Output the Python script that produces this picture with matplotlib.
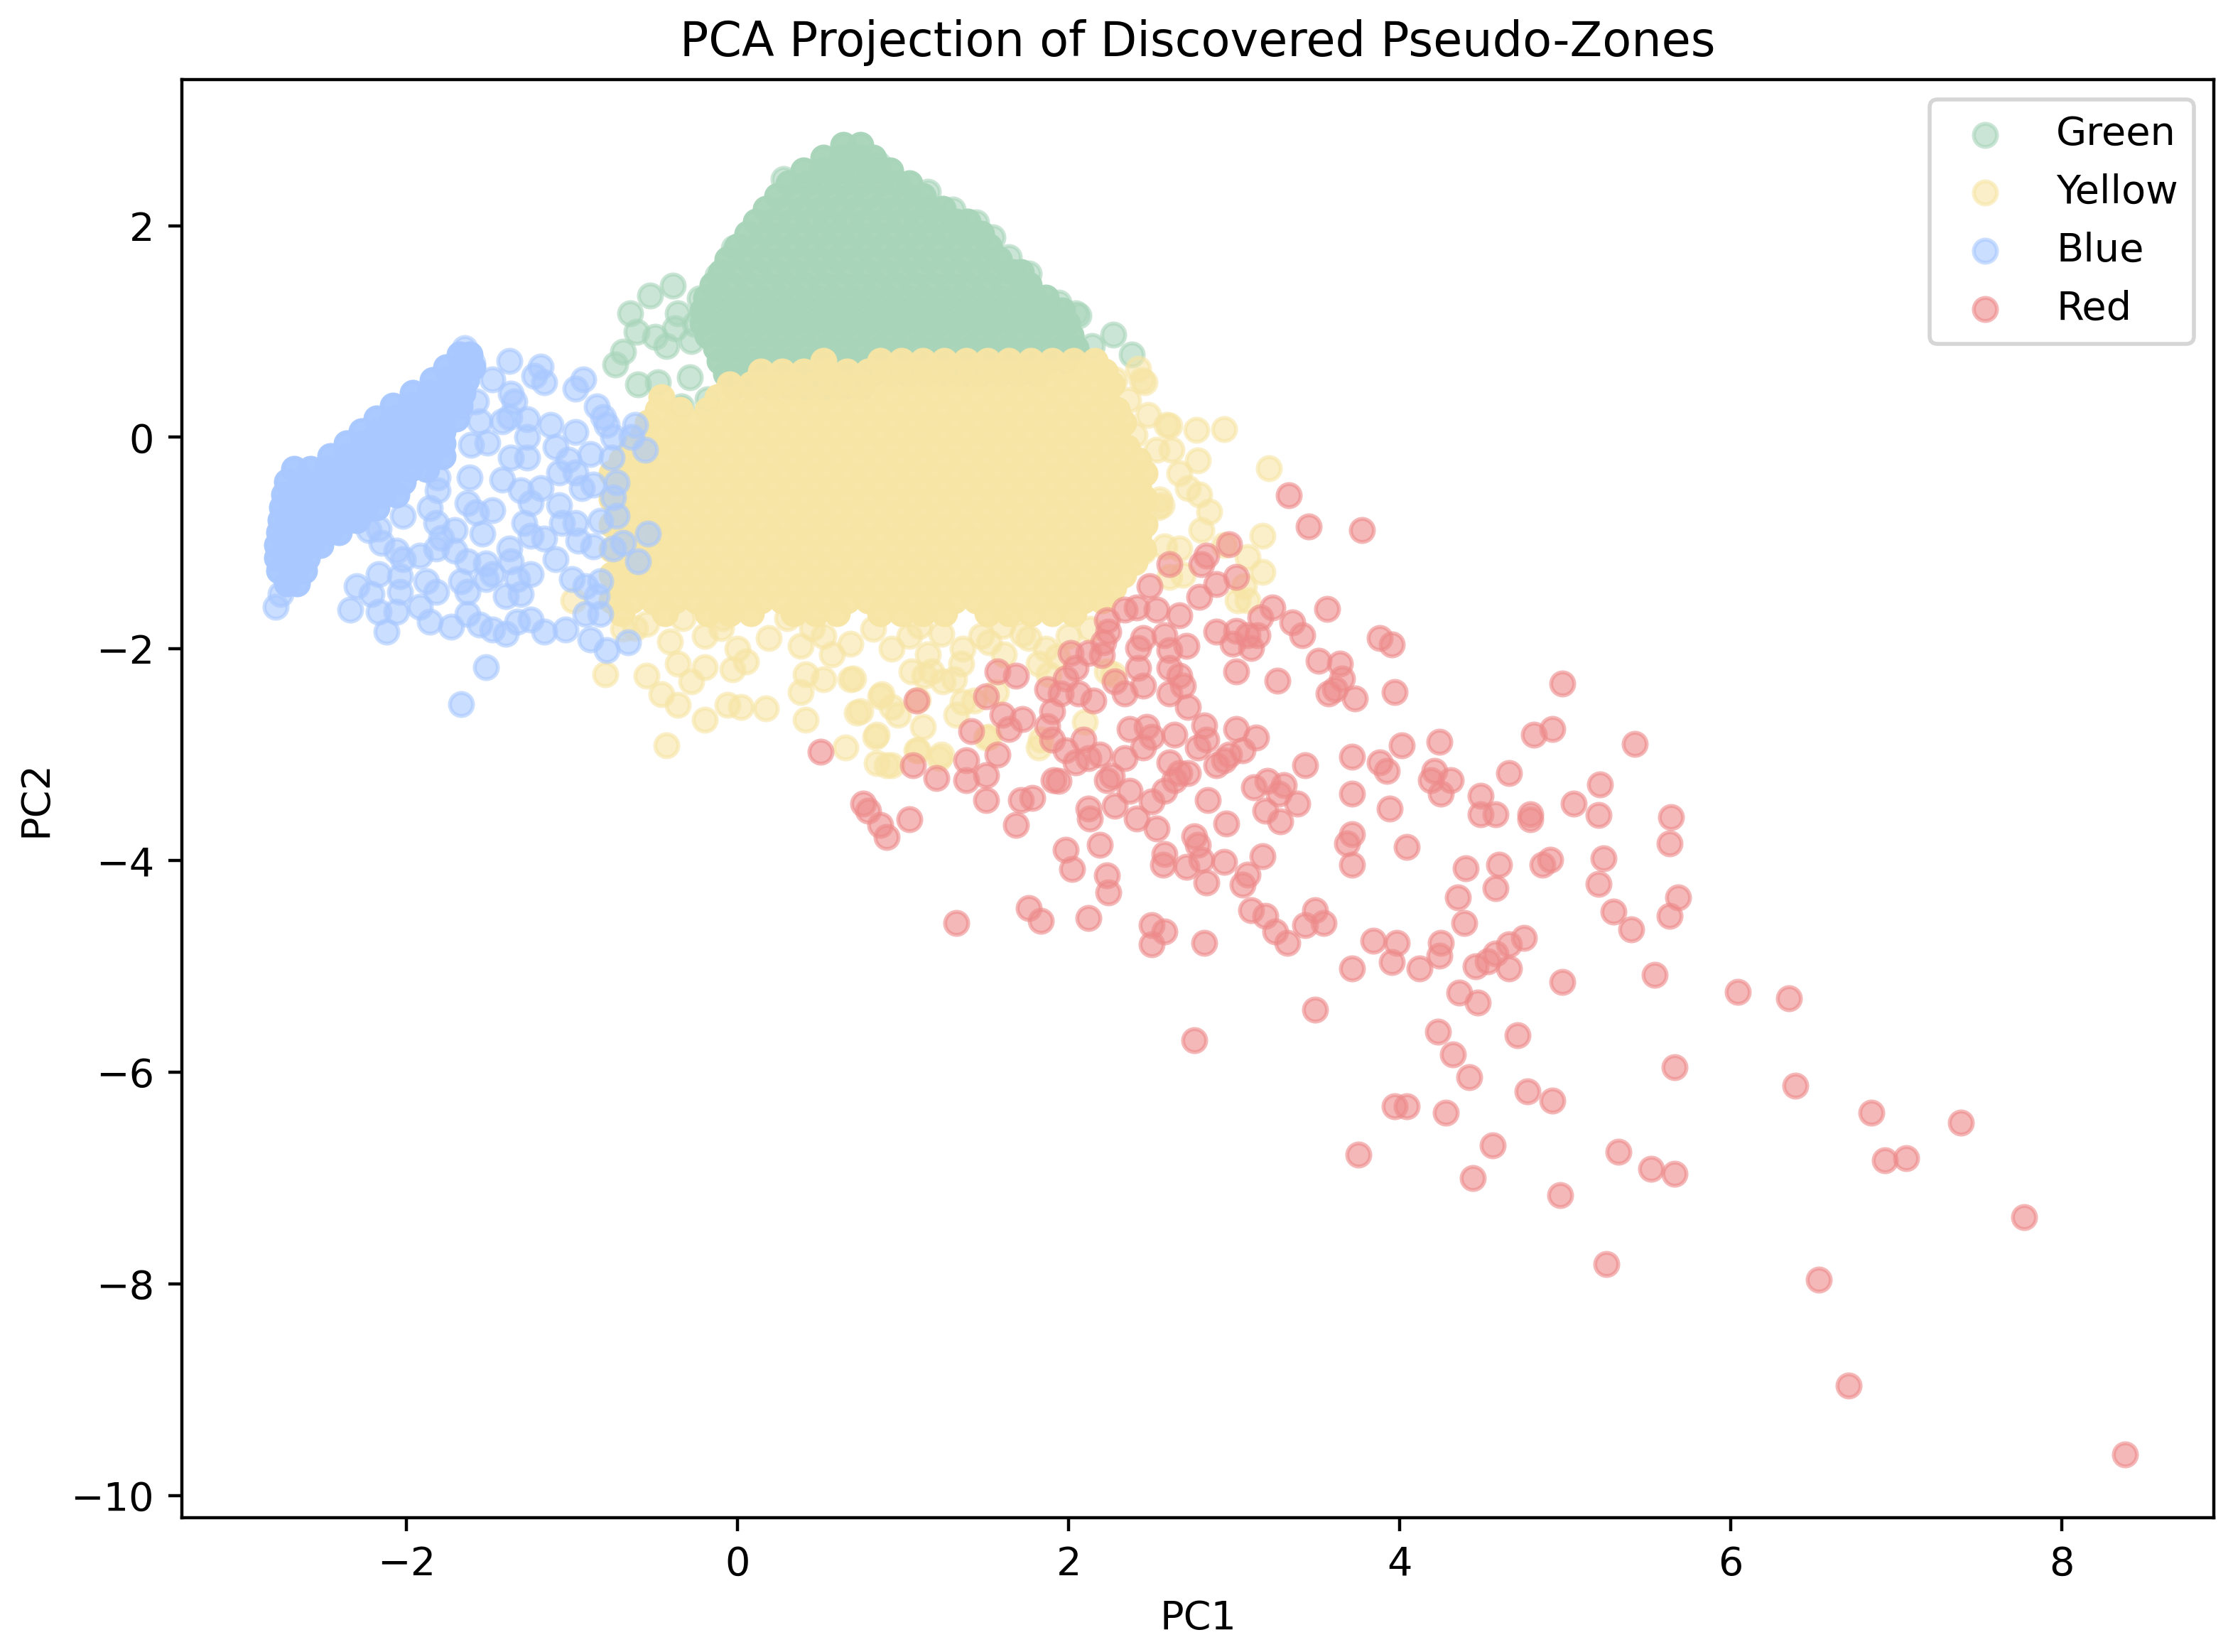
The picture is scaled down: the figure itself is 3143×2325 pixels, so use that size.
import matplotlib
matplotlib.use("Agg")
import matplotlib.pyplot as plt

# ---------------- colours ----------------
GREEN_C = "#a8d5ba"
YELLOW_C = "#f7e5a5"
BLUE_C = "#a8c8ff"
RED_C = "#ee8a8a"

labels = ["Green", "Yellow", "Blue", "Red"]

# ---------------- data ----------------
# dense cores, rows of (PC2, [PC1 ...])
green_core_rows = [
    (2.76, [0.64, 0.74]),
    (2.64, [0.52, 0.63, 0.74, 0.82]),
    (2.52, [0.40, 0.51, 0.62, 0.73, 0.84, 0.92]),
    (2.40, [0.31, 0.42, 0.53, 0.64, 0.75, 0.86, 0.97, 1.04]),
    (2.28, [0.24, 0.35, 0.46, 0.57, 0.68, 0.79, 0.90, 1.01, 1.12]),
    (2.16, [0.17, 0.28, 0.39, 0.50, 0.61, 0.72, 0.83, 0.94, 1.05, 1.16, 1.24]),
    (2.04, [0.11, 0.22, 0.33, 0.44, 0.55, 0.66, 0.77, 0.88, 0.99, 1.10, 1.21, 1.32, 1.39]),
    (1.92, [0.06, 0.17, 0.28, 0.39, 0.50, 0.61, 0.72, 0.83, 0.94, 1.05, 1.16, 1.27, 1.38, 1.47]),
    (1.80, [0.00, 0.11, 0.22, 0.33, 0.44, 0.55, 0.66, 0.77, 0.88, 0.99, 1.10, 1.21, 1.32, 1.43, 1.52]),
    (1.68, [-0.06, 0.05, 0.16, 0.27, 0.38, 0.49, 0.60, 0.71, 0.82, 0.93, 1.04, 1.15, 1.26, 1.37, 1.48, 1.58]),
    (1.56, [-0.10, 0.01, 0.12, 0.23, 0.34, 0.45, 0.56, 0.67, 0.78, 0.89, 1.00, 1.11, 1.22, 1.33, 1.44, 1.55, 1.66, 1.71]),
    (1.44, [-0.15, -0.04, 0.07, 0.18, 0.29, 0.40, 0.51, 0.62, 0.73, 0.84, 0.95, 1.06, 1.17, 1.28, 1.39, 1.50, 1.61, 1.72, 1.76]),
    (1.32, [-0.19, -0.08, 0.03, 0.14, 0.25, 0.36, 0.47, 0.58, 0.69, 0.80, 0.91, 1.02, 1.13, 1.24, 1.35, 1.46, 1.57, 1.68, 1.79, 1.86]),
    (1.20, [-0.21, -0.10, 0.01, 0.12, 0.23, 0.34, 0.45, 0.56, 0.67, 0.78, 0.89, 1.00, 1.11, 1.22, 1.33, 1.44, 1.55, 1.66, 1.77, 1.88, 1.96]),
    (1.08, [-0.21, -0.10, 0.01, 0.12, 0.23, 0.34, 0.45, 0.56, 0.67, 0.78, 0.89, 1.00, 1.11, 1.22, 1.33, 1.44, 1.55, 1.66, 1.77, 1.88, 1.99]),
    (0.96, [-0.18, -0.07, 0.04, 0.15, 0.26, 0.37, 0.48, 0.59, 0.70, 0.81, 0.92, 1.03, 1.14, 1.25, 1.36, 1.47, 1.58, 1.69, 1.80, 1.91, 2.01]),
    (0.84, [-0.13, -0.02, 0.09, 0.20, 0.31, 0.42, 0.53, 0.64, 0.75, 0.86, 0.97, 1.08, 1.19, 1.30, 1.41, 1.52, 1.63, 1.74, 1.85, 1.96, 2.04]),
    (0.72, [-0.11, 0.00, 0.11, 0.22, 0.33, 0.44, 0.55, 0.66, 0.77, 0.88, 0.99, 1.10, 1.21, 1.32, 1.43, 1.54, 1.65, 1.76, 1.87, 1.98]),
    (0.60, [-0.07, 0.04, 0.15, 0.26, 0.37, 0.48, 0.59, 0.70, 0.81, 0.92, 1.03, 1.14, 1.25, 1.36, 1.47, 1.58, 1.69, 1.80]),
    (0.48, [-0.02, 0.09, 0.20, 0.31, 0.42, 0.53, 0.64, 0.75]),
]
green_outer_x = [-0.39, -0.53, -0.65, -0.61, -0.50, -0.43, -0.36, -0.69, -0.74, -0.60, -0.48, -0.29,
                 -0.28, -0.38, -0.18, -0.34, -0.12, -0.02, 2.27, 2.14, 2.38, 2.04, 0.28, 0.85, 1.15,
                 1.30, 1.44, 1.54, 1.64, 1.76, 1.94, 2.06, -0.26, -0.23]
green_outer_y = [1.43, 1.34, 1.17, 1.00, 0.95, 0.86, 1.17, 0.81, 0.69, 0.50, 0.52, 0.57,
                 0.91, 1.03, 0.36, 0.29, 1.53, 1.79, 0.97, 0.86, 0.78, 1.17, 2.44, 2.58, 2.32,
                 2.15, 2.03, 1.89, 1.70, 1.55, 1.27, 1.15, 1.07, 1.31]

yellow_core_rows = [
    (0.72, [0.52, 0.86, 0.99, 1.12, 1.25, 1.38, 1.51, 1.64, 1.77, 1.90, 2.03, 2.16]),
    (0.62, [0.14, 0.27, 0.40, 0.53, 0.66, 0.79, 0.92, 1.05, 1.18, 1.31, 1.44, 1.57, 1.70, 1.83, 1.96, 2.09, 2.22]),
    (0.50, [-0.05, 0.08, 0.21, 0.34, 0.47, 0.60, 0.73, 0.86, 0.99, 1.12, 1.25, 1.38, 1.51, 1.64, 1.77, 1.90, 2.03, 2.16, 2.26]),
    (0.38, [-0.46, -0.12, 0.01, 0.14, 0.27, 0.40, 0.53, 0.66, 0.79, 0.92, 1.05, 1.18, 1.31, 1.44, 1.57, 1.70, 1.83, 1.96, 2.09, 2.22]),
    (0.26, [-0.48, -0.35, -0.18, -0.05, 0.08, 0.21, 0.34, 0.47, 0.60, 0.73, 0.86, 0.99, 1.12, 1.25, 1.38, 1.51, 1.64, 1.77, 1.90, 2.03, 2.16, 2.29]),
    (0.14, [-0.54, -0.38, -0.25, -0.12, 0.01, 0.14, 0.27, 0.40, 0.53, 0.66, 0.79, 0.92, 1.05, 1.18, 1.31, 1.44, 1.57, 1.70, 1.83, 1.96, 2.09, 2.22, 2.33]),
    (0.02, [-0.57, -0.44, -0.31, -0.18, -0.05, 0.08, 0.21, 0.34, 0.47, 0.60, 0.73, 0.86, 0.99, 1.12, 1.25, 1.38, 1.51, 1.64, 1.77, 1.90, 2.03, 2.16, 2.29]),
    (-0.10, [-0.64, -0.51, -0.38, -0.25, -0.12, 0.01, 0.14, 0.27, 0.40, 0.53, 0.66, 0.79, 0.92, 1.05, 1.18, 1.31, 1.44, 1.57, 1.70, 1.83, 1.96, 2.09, 2.22, 2.35]),
    (-0.22, [-0.70, -0.57, -0.44, -0.31, -0.18, -0.05, 0.08, 0.21, 0.34, 0.47, 0.60, 0.73, 0.86, 0.99, 1.12, 1.25, 1.38, 1.51, 1.64, 1.77, 1.90, 2.03, 2.16, 2.29, 2.42]),
    (-0.34, [-0.76, -0.64, -0.51, -0.38, -0.25, -0.12, 0.01, 0.14, 0.27, 0.40, 0.53, 0.66, 0.79, 0.92, 1.05, 1.18, 1.31, 1.44, 1.57, 1.70, 1.83, 1.96, 2.09, 2.22, 2.35, 2.46]),
    (-0.46, [-0.70, -0.57, -0.44, -0.31, -0.18, -0.05, 0.08, 0.21, 0.34, 0.47, 0.60, 0.73, 0.86, 0.99, 1.12, 1.25, 1.38, 1.51, 1.64, 1.77, 1.90, 2.03, 2.16, 2.29, 2.42]),
    (-0.58, [-0.76, -0.64, -0.51, -0.38, -0.25, -0.12, 0.01, 0.14, 0.27, 0.40, 0.53, 0.66, 0.79, 0.92, 1.05, 1.18, 1.31, 1.44, 1.57, 1.70, 1.83, 1.96, 2.09, 2.22, 2.35, 2.46]),
    (-0.70, [-0.70, -0.57, -0.44, -0.31, -0.18, -0.05, 0.08, 0.21, 0.34, 0.47, 0.60, 0.73, 0.86, 0.99, 1.12, 1.25, 1.38, 1.51, 1.64, 1.77, 1.90, 2.03, 2.16, 2.29, 2.42]),
    (-0.82, [-0.76, -0.64, -0.51, -0.38, -0.25, -0.12, 0.01, 0.14, 0.27, 0.40, 0.53, 0.66, 0.79, 0.92, 1.05, 1.18, 1.31, 1.44, 1.57, 1.70, 1.83, 1.96, 2.09, 2.22, 2.35, 2.46]),
    (-0.94, [-0.70, -0.57, -0.44, -0.31, -0.18, -0.05, 0.08, 0.21, 0.34, 0.47, 0.60, 0.73, 0.86, 0.99, 1.12, 1.25, 1.38, 1.51, 1.64, 1.77, 1.90, 2.03, 2.16, 2.29, 2.42]),
    (-1.06, [-0.76, -0.64, -0.51, -0.38, -0.25, -0.12, 0.01, 0.14, 0.27, 0.40, 0.53, 0.66, 0.79, 0.92, 1.05, 1.18, 1.31, 1.44, 1.57, 1.70, 1.83, 1.96, 2.09, 2.22, 2.35, 2.45]),
    (-1.18, [-0.70, -0.57, -0.44, -0.31, -0.18, -0.05, 0.08, 0.21, 0.34, 0.47, 0.60, 0.73, 0.86, 0.99, 1.12, 1.25, 1.38, 1.51, 1.64, 1.77, 1.90, 2.03, 2.16, 2.29, 2.40]),
    (-1.30, [-0.76, -0.64, -0.51, -0.38, -0.25, -0.12, 0.01, 0.14, 0.27, 0.40, 0.53, 0.66, 0.79, 0.92, 1.05, 1.18, 1.31, 1.44, 1.57, 1.70, 1.83, 1.96, 2.09, 2.22, 2.33]),
    (-1.42, [-0.70, -0.57, -0.44, -0.31, -0.18, -0.05, 0.08, 0.21, 0.34, 0.47, 0.60, 0.73, 0.86, 0.99, 1.12, 1.25, 1.38, 1.51, 1.64, 1.77, 1.90, 2.03, 2.16, 2.27]),
    (-1.54, [-0.76, -0.64, -0.51, -0.38, -0.25, -0.12, 0.01, 0.14, 0.27, 0.40, 0.53, 0.66, 0.79, 0.92, 1.05, 1.18, 1.31, 1.44, 1.57, 1.70, 1.83, 1.96, 2.09, 2.20]),
    (-1.66, [-0.70, -0.44, -0.18, -0.05, 0.08, 0.34, 0.47, 0.60, 0.86, 0.99, 1.12, 1.25, 1.51, 1.64, 1.77, 1.90, 2.03]),
]
yellow_outer_x = [2.28, 2.46, 2.48, 2.59, 2.77, 2.94, 2.78, 2.67, 2.72, 2.53, 2.55, 2.40, 3.21, 2.79,
                  2.56, 2.80, 3.17, 2.94, 3.08, 2.67, 3.17, 2.69, 3.02, 3.08, 2.58, 2.54, 2.44, 3.06,
                  2.61, 2.85, 2.61, 2.45, 2.36, 2.42, 2.62,
                  0.86, 0.74, 0.97, 0.83, 1.08, 1.22, 0.90, 1.43, 1.32, 1.52, 1.82, 1.13, 1.24, 1.05,
                  0.70, 1.35, 1.52, 1.76, 1.93, 2.23, 1.82,
                  -0.80, -0.55, -0.46, -0.36, -0.20, -0.43, -0.28, -0.36, -0.20, -0.03, 0.05, -0.06,
                  0.02, 0.17, 0.41, 0.38, 0.41, 0.52, 0.68, 0.65, 0.72, 0.84, 0.84, 0.93, 0.87, 0.93,
                  1.09, 1.12, 1.09, 1.23, 1.17, 1.31, 1.36, 1.50, 1.56, 1.83, 1.88, 2.10, 2.27,
                  -0.69, -0.55, -0.41, -0.33, -0.20, -0.09, 0.00, 0.19, 0.30, 0.38, 0.52, 0.57, 0.68,
                  0.82, 0.93, 1.04, 1.15, 1.23, 1.36, 1.47, 1.61, 1.72, 1.86, 2.00, 2.13, -0.99, -0.65,
                  -0.62, -0.10, 0.45, 1.10, 1.60]
yellow_outer_y = [0.55, 0.52, 0.21, 0.12, 0.07, 0.08, -0.22, -0.34, -0.48, -0.12, -0.59, 0.02, -0.29, -0.54,
                  -0.64, -0.88, -0.93, -1.02, -1.13, -1.05, -1.27, -1.30, -1.54, -1.54, -1.03, -0.66, 0.54, -1.41,
                  0.11, -0.70, -1.32, -1.08, 0.35, 0.65, -0.12,
                  -2.45, -2.59, -2.62, -2.83, -2.96, -3.03, -3.10, -2.49, -2.62, -2.83, -2.93, -2.25, -2.31, -2.21,
                  -2.28, -2.14, -1.94, -1.90, -2.07, -2.21, -2.14,
                  -2.24, -2.25, -2.43, -2.53, -2.67, -2.91, -2.31, -2.14, -2.17, -2.19, -2.12, -2.53,
                  -2.55, -2.56, -2.67, -2.41, -2.24, -2.29, -2.29, -2.93, -2.60, -2.81, -3.08, -3.10, -2.43, -2.55,
                  -2.48, -2.74, -2.96, -3.00, -2.21, -2.29, -2.50, -2.84, -2.41, -2.86, -2.24, -2.69, -2.24,
                  -1.81, -1.76, -1.93, -1.71, -1.88, -1.71, -2.00, -1.90, -1.71, -1.97, -1.88, -2.05, -1.95,
                  -1.81, -2.00, -1.88, -2.05, -1.86, -2.00, -1.88, -2.05, -1.86, -2.00, -1.88, -1.81, -1.54, -1.33,
                  -1.80, -1.80, -1.80, -1.78, -1.78]

blue_core_rows = [
    (0.78, [-1.68, -1.62]),
    (0.66, [-1.76, -1.66, -1.60]),
    (0.54, [-1.84, -1.74, -1.64]),
    (0.42, [-1.96, -1.86, -1.76, -1.66]),
    (0.30, [-2.08, -1.98, -1.88, -1.78, -1.68]),
    (0.18, [-2.18, -2.08, -1.98, -1.88, -1.78, -1.70]),
    (0.06, [-2.27, -2.17, -2.07, -1.97, -1.87, -1.78]),
    (-0.06, [-2.36, -2.26, -2.16, -2.06, -1.96, -1.86, -1.78]),
    (-0.18, [-2.46, -2.36, -2.26, -2.16, -2.06, -1.96, -1.86, -1.78]),
    (-0.30, [-2.68, -2.58, -2.48, -2.38, -2.28, -2.18, -2.08, -1.98, -1.88]),
    (-0.42, [-2.72, -2.62, -2.52, -2.42, -2.32, -2.22, -2.12, -2.02]),
    (-0.54, [-2.74, -2.64, -2.54, -2.44, -2.34, -2.24, -2.14, -2.06]),
    (-0.66, [-2.75, -2.65, -2.55, -2.45, -2.35, -2.25, -2.18]),
    (-0.78, [-2.76, -2.66, -2.56, -2.46, -2.36, -2.30]),
    (-0.90, [-2.77, -2.67, -2.57, -2.47, -2.41]),
    (-1.02, [-2.78, -2.68, -2.58, -2.52]),
    (-1.14, [-2.78, -2.68, -2.60]),
    (-1.26, [-2.77, -2.67, -2.62]),
    (-1.38, [-2.72, -2.66]),
]
blue_outer_x = [-1.38, -1.19, -1.23, -1.17, -1.48, -1.37, -1.35, -0.93, -0.98, -0.85, -0.81, -0.79, -0.62,
                -0.64, -0.56, -0.75, -1.58, -1.56, -1.61, -1.51, -1.42, -1.38, -1.27, -1.13, -0.98, -1.27,
                -1.37, -1.27, -1.10, -1.02, -0.89, -1.08, -0.98, -0.94, -0.87, -0.76, -0.73, -0.75, -0.73,
                -1.81, -1.62, -1.42, -1.31, -1.19, -1.25, -1.08, -1.81, -1.86, -2.02, -2.17, -2.23, -2.15,
                -2.06, -2.02, -1.92, -1.82, -1.79, -1.71, -1.63, -1.58, -1.48, -1.54, -1.82, -1.71, -1.63,
                -1.52, -1.48, -1.29, -1.25, -1.17, -1.06, -0.98, -0.83, -0.96, -0.87, -0.75, -0.69, -0.54,
                -0.60, -1.38, -1.37, -1.10, -1.00, -0.83, -0.85, -1.33, -1.25, -1.31, -1.40, -1.52, -1.63,
                -1.67, -1.82, -1.88, -2.04, -2.17, -2.30, -2.21, -2.04, -2.34, -2.17, -2.06, -2.12, -1.92,
                -1.86, -1.73, -1.63, -1.56, -1.48, -1.40, -1.33, -1.25, -1.17, -1.04, -0.92, -0.89, -0.83,
                -0.79, -0.66, -0.92, -1.52, -1.67, -2.76, -2.79, -1.65, -1.60]
blue_outer_y = [0.72, 0.67, 0.58, 0.52, 0.55, 0.41, 0.34, 0.55, 0.46, 0.29, 0.19, 0.12, 0.12,
                0.00, -0.12, 0.00, 0.34, 0.15, -0.07, -0.05, 0.15, 0.19, 0.17, 0.12, 0.05, 0.00,
                -0.19, -0.19, -0.09, -0.21, -0.16, -0.33, -0.33, -0.48, -0.45, -0.19, -0.43, -0.57, -0.74,
                -0.38, -0.38, -0.40, -0.50, -0.48, -0.62, -0.64, -0.50, -0.67, -0.74, -0.86, -0.88, -1.00,
                -1.07, -1.15, -1.12, -0.81, -0.95, -0.88, -0.62, -0.71, -0.69, -0.91, -1.05, -1.07, -1.17,
                -1.19, -1.29, -0.81, -0.93, -0.96, -0.81, -0.81, -0.79, -0.98, -1.03, -1.05, -1.00, -0.91,
                -1.17, -1.05, -1.17, -1.15, -1.34, -1.36, -1.50, -1.34, -1.29, -1.48, -1.50, -1.34, -1.46,
                -1.36, -1.46, -1.36, -1.31, -1.29, -1.41, -1.48, -1.46, -1.63, -1.65, -1.65, -1.84, -1.60,
                -1.74, -1.79, -1.67, -1.77, -1.82, -1.86, -1.74, -1.72, -1.84, -1.82, -1.67, -1.91, -1.67,
                -2.01, -1.94, -1.41, -2.17, -2.52, -1.48, -1.60, 0.84, 0.70]

red_x = [3.33, 3.45, 3.77, 2.97, 2.83, 2.80, 3.01, 2.61, 2.49, 2.89, 2.79, 3.56, 3.23, 3.16, 3.35, 3.41,
         2.89, 3.01, 3.08, 3.14, 2.99, 3.10, 3.88, 3.95, 2.34, 2.41, 2.53, 2.67, 2.23, 2.24, 2.21, 2.45,
         2.42, 2.58, 2.61, 2.71, 3.51, 3.64, 3.65, 3.61, 3.73, 3.57, 3.97, 3.01, 3.26, 2.42, 2.45, 2.61,
         2.67, 2.69, 2.61, 2.72, 2.28, 2.34, 2.01, 2.12, 2.20, 2.04, 1.98, 1.87, 1.95, 2.06, 2.15, 1.90,
         1.87, 1.90, 1.98, 2.04, 2.09, 2.19, 2.12, 1.68, 1.57, 1.60, 1.72, 1.64, 1.50, 1.08, 1.41, 1.57,
         1.38, 1.38, 1.50, 1.06, 1.20, 2.37, 2.47, 2.34, 2.45, 2.50, 2.64, 2.82, 2.83, 2.78, 3.01, 3.13,
         3.05, 2.97, 2.89, 2.94, 2.61, 2.67, 2.72, 2.58, 2.64, 3.43, 3.71, 3.88, 3.92, 4.01, 4.24, 4.21,
         4.19, 4.25, 4.31, 4.81, 4.92, 4.98, 4.66, 3.12, 3.20, 3.30, 3.27, 3.38, 3.19, 3.28, 2.84, 2.95,
         3.71, 3.94, 3.71, 3.68, 3.71, 4.04, 4.49, 4.49, 4.58, 4.79, 4.79, 4.91, 4.86, 4.60, 4.58, 4.40,
         4.35, 4.39, 4.25, 4.24, 4.12, 3.98, 3.95, 3.84, 3.71, 4.66, 4.75, 4.58, 4.53, 4.46, 4.66, 4.36,
         4.47, 3.49, 4.98, 3.49, 3.43, 3.54, 3.10, 3.19, 3.25, 3.32, 3.08, 3.05, 3.17, 2.94, 2.83, 2.80,
         2.76, 2.78, 2.58, 2.71, 2.57, 2.50, 2.58, 2.50, 2.82, 2.19, 1.98, 2.02, 2.23, 2.24, 1.76, 1.83,
         2.12, 1.32, 2.12, 2.13, 2.28, 2.23, 2.26, 2.37, 2.41, 2.53, 2.50, 1.91, 1.94, 1.68, 1.71, 1.78,
         1.50, 0.76, 0.79, 0.86, 0.90, 1.04, 0.50,
         5.21, 5.42, 5.05, 5.20, 5.64, 5.63, 5.23, 5.20, 5.29, 5.40, 5.68, 5.63, 5.54, 6.04, 6.35, 5.66,
         6.39, 6.85, 7.39, 6.93, 7.06, 7.77, 5.32, 5.52, 5.66, 4.97, 5.25, 6.53, 6.71, 8.38, 4.23, 4.71,
         4.32, 4.42, 4.77, 4.92, 3.97, 4.04, 4.28, 3.75, 4.56, 4.44, 2.76]
red_y = [-0.55, -0.84, -0.88, -1.01, -1.12, -1.20, -1.32, -1.20, -1.41, -1.39, -1.51, -1.62, -1.61, -1.70, -1.75, -1.87,
         -1.84, -1.83, -1.87, -1.87, -1.95, -1.99, -1.90, -1.96, -1.63, -1.61, -1.63, -1.68, -1.73, -1.84, -1.94, -1.90,
         -1.99, -1.87, -2.01, -1.97, -2.11, -2.14, -2.28, -2.38, -2.47, -2.42, -2.41, -2.21, -2.30, -2.18, -2.35, -2.18,
         -2.25, -2.35, -2.42, -2.55, -2.31, -2.42, -2.04, -2.04, -2.06, -2.18, -2.28, -2.38, -2.42, -2.42, -2.49, -2.59,
         -2.73, -2.86, -2.96, -3.07, -2.86, -3.00, -3.03, -2.25, -2.21, -2.62, -2.66, -2.76, -2.45, -2.49, -2.78, -3.00,
         -3.05, -3.24, -3.19, -3.10, -3.22, -2.76, -2.74, -3.03, -2.93, -2.83, -2.81, -2.72, -2.86, -2.93, -2.76, -2.84,
         -2.96, -3.00, -3.10, -3.05, -3.07, -3.17, -3.17, -3.34, -3.24, -3.10, -3.02, -3.07, -3.15, -2.91, -2.88, -3.15,
         -3.24, -3.37, -3.24, -2.81, -2.76, -2.33, -3.17, -3.31, -3.25, -3.29, -3.37, -3.46, -3.53, -3.63, -3.43, -3.65,
         -3.37, -3.51, -3.75, -3.84, -4.04, -3.87, -3.39, -3.56, -3.56, -3.56, -3.61, -3.99, -4.04, -4.04, -4.26, -4.07,
         -4.35, -4.59, -4.78, -4.90, -5.02, -4.78, -4.96, -4.76, -5.02, -4.79, -4.73, -4.88, -4.95, -5.00, -5.02, -5.25,
         -5.34, -5.41, -5.15, -4.47, -4.61, -4.59, -4.47, -4.52, -4.67, -4.78, -4.13, -4.23, -3.96, -4.01, -4.21, -3.99,
         -3.77, -3.85, -3.94, -4.06, -4.04, -4.61, -4.67, -4.79, -4.78, -3.85, -3.90, -4.08, -4.14, -4.30, -4.45, -4.57,
         -4.54, -4.59, -3.51, -3.60, -3.48, -3.24, -3.20, -3.34, -3.60, -3.70, -3.44, -3.24, -3.25, -3.66, -3.43, -3.41,
         -3.43, -3.46, -3.53, -3.66, -3.78, -3.61, -2.97,
         -3.28, -2.90, -3.46, -3.57, -3.59, -3.84, -3.98, -4.22, -4.48, -4.65, -4.35, -4.52, -5.08, -5.24, -5.30, -5.95,
         -6.13, -6.38, -6.48, -6.83, -6.81, -7.37, -6.75, -6.91, -6.96, -7.16, -7.81, -7.96, -8.96, -9.61, -5.62, -5.65,
         -5.83, -6.05, -6.18, -6.27, -6.32, -6.32, -6.38, -6.78, -6.69, -7.00, -5.70]


def unroll(rows):
    xs, ys = [], []
    for y, row in rows:
        for x in row:
            xs.append(x)
            ys.append(y)
    return xs, ys


gcx, gcy = unroll(green_core_rows)
ycx, ycy = unroll(yellow_core_rows)
bcx, bcy = unroll(blue_core_rows)

# ---------------- figure ----------------
DPI = 401
fig = plt.figure(figsize=(3143 / DPI, 2325 / DPI), dpi=DPI)
ax = fig.add_axes([0.0815, 0.0813, 0.9914 - 0.0815, 0.9518 - 0.0813])

S = 34
CORE_A = 0.96
OUT_A = 0.6

ax.scatter(gcx, gcy, s=S, color=GREEN_C, alpha=CORE_A)
ax.scatter(green_outer_x, green_outer_y, s=S, color=GREEN_C, alpha=OUT_A, label=labels[0])
ax.scatter(ycx, ycy, s=S, color=YELLOW_C, alpha=CORE_A)
ax.scatter(yellow_outer_x, yellow_outer_y, s=S, color=YELLOW_C, alpha=OUT_A, label=labels[1])
ax.scatter(bcx, bcy, s=S, color=BLUE_C, alpha=CORE_A)
ax.scatter(blue_outer_x, blue_outer_y, s=S, color=BLUE_C, alpha=OUT_A, label=labels[2])
ax.scatter(red_x, red_y, s=S, color=RED_C, alpha=OUT_A, label=labels[3])

ax.set_xlim(-3.356, 8.917)
ax.set_ylim(-10.21, 3.38)
ax.set_title("PCA Projection of Discovered Pseudo-Zones")
ax.set_xlabel("PC1")
ax.set_ylabel("PC2")
ax.legend(loc="upper right")

fig.savefig("out.png", dpi=DPI)
